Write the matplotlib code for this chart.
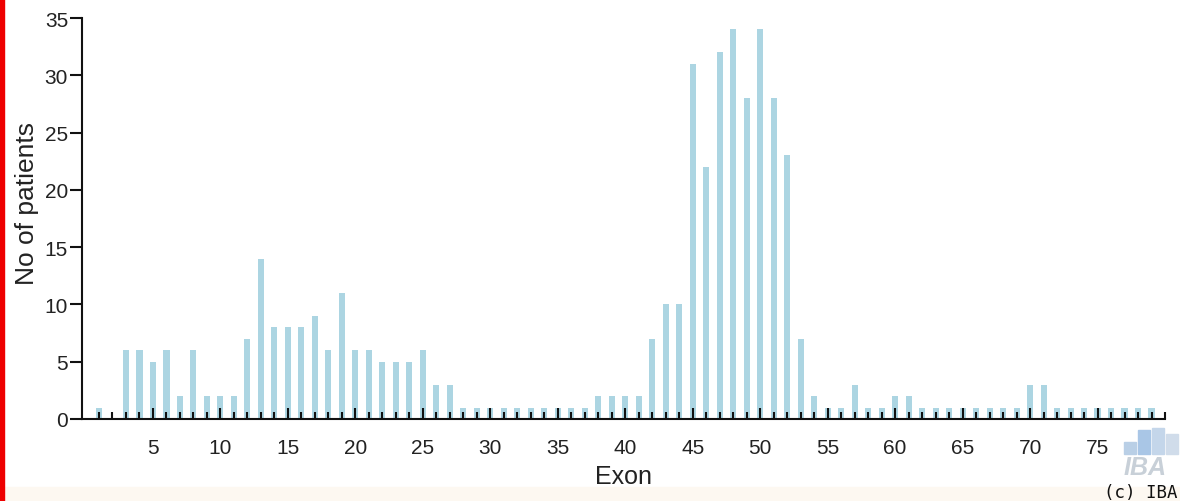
import matplotlib
matplotlib.use("Agg")
import matplotlib.pyplot as plt
from matplotlib.patches import Rectangle
from matplotlib.ticker import FixedLocator

plt.rcParams['font.family'] = ['Liberation Sans', 'DejaVu Sans']

exons = list(range(1, 80))
patients = [1, 0, 6, 6, 5, 6, 2, 6, 2, 2,
            2, 7, 14, 8, 8, 8, 9, 6, 11, 6,
            6, 5, 5, 5, 6, 3, 3, 1, 1, 1,
            1, 1, 1, 1, 1, 1, 1, 2, 2, 2,
            2, 7, 10, 10, 31, 22, 32, 34, 28, 34,
            28, 23, 7, 2, 1, 1, 3, 1, 1, 2,
            2, 1, 1, 1, 1, 1, 1, 1, 1, 3,
            3, 1, 1, 1, 1, 1, 1, 1, 1]
xtick_labels = [5, 10, 15, 20, 25, 30, 35, 40, 45, 50, 55, 60, 65, 70, 75]
ytick_labels = [0, 5, 10, 15, 20, 25, 30, 35]

W, H = 1180, 502
fig = plt.figure(figsize=(W / 100, H / 100), dpi=100)
fig.patch.set_facecolor('white')
ax = fig.add_axes([82 / W, (H - 420) / H, (1165 - 82) / W, (420 - 19) / H])

ax.bar(exons, patients, width=0.45, color='#acd5e2', zorder=1)

ax.set_xlim(-0.26, 80)
ax.set_ylim(0, 35)
for s in ['top', 'right']:
    ax.spines[s].set_visible(False)
for s in ['left', 'bottom']:
    ax.spines[s].set_linewidth(1.5)
    ax.spines[s].set_color('#111111')

ax.set_xticks(xtick_labels)
ax.set_xticklabels([str(v) for v in xtick_labels])
ax.xaxis.set_minor_locator(FixedLocator([v for v in range(1, 81) if v % 5 != 0 or v == 80]))
ax.set_yticks(ytick_labels)
ax.set_yticklabels([str(v) for v in ytick_labels])
ax.tick_params(axis='x', which='major', direction='in', length=8, width=1.5,
               labelsize=15, pad=14, color='#111111', labelcolor='#222222')
ax.tick_params(axis='x', which='minor', direction='in', length=5, width=1.5,
               color='#111111')
ax.tick_params(axis='y', which='major', direction='out', length=9, width=1.5,
               labelsize=15, pad=1, color='#111111', labelcolor='#222222')

ax.set_xlabel('Exon', fontsize=18, color='#222222')
ax.xaxis.set_label_coords(0.5, -0.113)
ax.set_ylabel('No of patients', fontsize=19, color='#222222')
ax.yaxis.set_label_coords(-0.040, 0.541)
ax.set_facecolor('white')

# left red border
fig.patches.append(Rectangle((0, 0), 4 / W, 1, transform=fig.transFigure,
                             color='#ee0000', zorder=10))
# faint bottom strip
fig.patches.append(Rectangle((4 / W, 0), 1, 14 / H, transform=fig.transFigure,
                             color='#fdf8f1', zorder=0))

# IBA watermark
logo_c = ['#b9cfe6', '#a9c6e6', '#c4d6ea', '#d0dcea']
logo_x = [1124, 1138, 1152, 1166]
logo_h = [12, 24, 26, 20]
for lx, lh, lc in zip(logo_x, logo_h, logo_c):
    fig.patches.append(Rectangle((lx / W, (H - 455) / H), 12 / W, lh / H,
                                 transform=fig.transFigure, color=lc, zorder=5))
fig.text(1124 / W, (H - 468) / H, 'IBA', fontsize=18, fontstyle='italic',
         fontweight='bold', color='#c8d0d8', va='center', ha='left')
fig.text(1104 / W, (H - 493) / H, '(c) IBA', fontsize=12.5,
         family='DejaVu Sans Mono', color='#111111', va='center', ha='left')

fig.savefig('out.png', dpi=100)
